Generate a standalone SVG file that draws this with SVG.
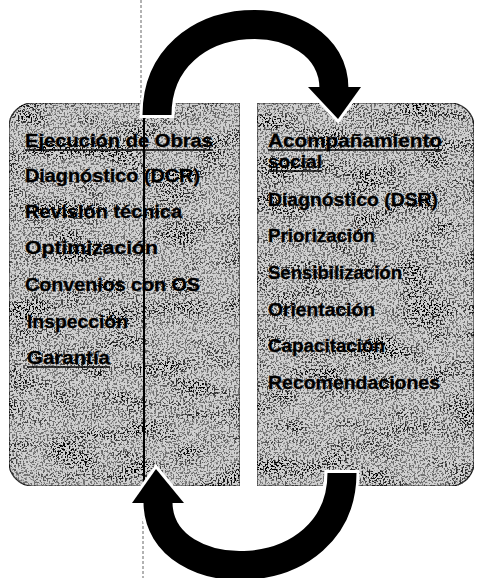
<svg xmlns="http://www.w3.org/2000/svg" width="478" height="578" viewBox="0 0 478 578">
<defs>
<filter id="grain" x="0" y="0" width="100%" height="100%" color-interpolation-filters="sRGB">
<feTurbulence type="fractalNoise" baseFrequency="0.55" numOctaves="2" seed="4" result="n"/>
<feColorMatrix in="n" type="matrix" values="0 0 0 0 0  0 0 0 0 0  0 0 0 0 0  -10 0 0 0 5.0" result="dots"/>
<feTurbulence type="fractalNoise" baseFrequency="0.02 0.05" numOctaves="2" seed="9" result="m"/>
<feColorMatrix in="m" type="matrix" values="0 0 0 0 0  0 0 0 0 0  0 0 0 0 0  -3 0 0 0 1.7" result="cloud"/>
<feComposite in="dots" in2="cloud" operator="arithmetic" k1="0.6" k2="0.45" k3="0" k4="0" result="d1"/>
<feComposite in="d1" in2="SourceGraphic" operator="in" result="d2"/>
<feMerge><feMergeNode in="SourceGraphic"/><feMergeNode in="d2"/></feMerge>
</filter>
</defs>
<style>
.box{fill:#d0d0d0;stroke:#333;stroke-width:1.2;filter:url(#grain)}
.t{font-family:"Liberation Sans",Arial,sans-serif;font-weight:bold;font-size:18px;fill:#000;stroke:#000;stroke-width:0.3}
.ul{stroke:#000;stroke-width:1.6}
.fold{stroke:#666;stroke-width:1;stroke-dasharray:3 2;fill:none}
.halo{fill:none;stroke:#fff;stroke-width:35}
.shaft{fill:none;stroke:#000;stroke-width:29}
.headhalo{fill:#fff;stroke:#fff;stroke-width:6;stroke-linejoin:miter}
.head{fill:#000}
</style>
<rect width="478" height="578" fill="#fff"/>

<g id="ejecucion-obras">
<path class="box" d="M33,103 H240 V486 H33 A24,24 0 0 1 9,462 V127 A24,24 0 0 1 33,103 Z"/>
<text class="t" x="25" y="147" textLength="188" lengthAdjust="spacingAndGlyphs">Ejecución de Obras</text>
<line class="ul" x1="25" y1="150" x2="213" y2="150"/>
<text class="t" x="25" y="182" textLength="175" lengthAdjust="spacingAndGlyphs">Diagnóstico (DCR)</text>
<text class="t" x="25" y="218" textLength="157" lengthAdjust="spacingAndGlyphs">Revisión técnica</text>
<text class="t" x="25" y="254" textLength="133" lengthAdjust="spacingAndGlyphs">Optimización</text>
<text class="t" x="25" y="291" textLength="175" lengthAdjust="spacingAndGlyphs">Convenios con OS</text>
<text class="t" x="27" y="328" textLength="101" lengthAdjust="spacingAndGlyphs">Inspección</text>
<text class="t" x="27" y="364" textLength="83" lengthAdjust="spacingAndGlyphs">Garantía</text>
<line class="ul" x1="27" y1="367" x2="110" y2="367"/>
</g>

<g id="acompanamiento-social">
<path class="box" d="M257,103 H450 A24,24 0 0 1 474,127 V462 A24,24 0 0 1 450,486 H257 Z"/>
<text class="t" x="268" y="147" textLength="174" lengthAdjust="spacingAndGlyphs">Acompañamiento</text>
<line class="ul" x1="268" y1="150" x2="442" y2="150"/>
<text class="t" x="268" y="168" textLength="54" lengthAdjust="spacingAndGlyphs">social</text>
<line class="ul" x1="268" y1="171" x2="322" y2="171"/>
<text class="t" x="268" y="206" textLength="170" lengthAdjust="spacingAndGlyphs">Diagnóstico (DSR)</text>
<text class="t" x="268" y="242" textLength="107" lengthAdjust="spacingAndGlyphs">Priorización</text>
<text class="t" x="268" y="279" textLength="134" lengthAdjust="spacingAndGlyphs">Sensibilización</text>
<text class="t" x="268" y="316" textLength="107" lengthAdjust="spacingAndGlyphs">Orientación</text>
<text class="t" x="268" y="352" textLength="117" lengthAdjust="spacingAndGlyphs">Capacitación</text>
<text class="t" x="268" y="389" textLength="172" lengthAdjust="spacingAndGlyphs">Recomendaciones</text>
</g>

<g id="fold-line">
<line class="fold" x1="141" y1="0" x2="141" y2="103"/>
<line x1="144" y1="103" x2="144" y2="486" stroke="#000" stroke-width="2"/>
<line class="fold" x1="143" y1="486" x2="143" y2="578"/>
</g>

<g id="connectors">
<g id="arrow-top">
<path class="halo" d="M157,118 C157,-1 334,-1 334,88"/>
<polygon class="headhalo" points="308,87 361,87 338,119"/>
<path class="shaft" d="M157,115 C157,-1 334,-1 334,89"/>
<polygon class="head" points="308,87 361,87 338,119"/>
</g>
<g id="arrow-bottom">
<path class="halo" d="M342,470 C342,591 158,591 158,502"/>
<polygon class="headhalo" points="132,503 184,503 156,469"/>
<path class="shaft" d="M342,473 C342,591 158,591 158,502"/>
<polygon class="head" points="132,503 184,503 156,469"/>
</g>
</g>
</svg>
